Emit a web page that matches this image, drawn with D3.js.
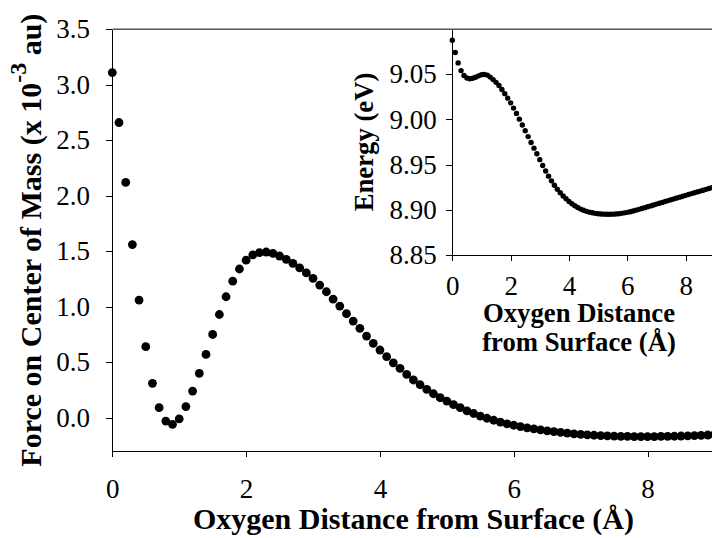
<!DOCTYPE html>
<html>
<head>
<meta charset="utf-8">
<script src="https://cdn.jsdelivr.net/npm/d3@7"></script>
<style>
  body { margin: 0; background: #fff; }
  svg { display: block; }
  .axis path, .axis line { stroke: #000; stroke-width: 1px; shape-rendering: crispEdges; }
  .title { font-weight: bold; fill: #000; }
</style>
</head>
<body>
<div id="chart"></div>
<script>
var serif = "'Liberation Serif', 'Times New Roman', Times, serif";

// Oxygen distance from surface (Å), 0.1 Å steps, shared by both panels
var distance = d3.range(91).map(function (i) { return i / 10; });

// Force on centre of mass (x 10^-3 au)
var force = [
    3.11, 2.66, 2.12, 1.56, 1.06, 0.64, 0.31, 0.09, -0.03, -0.06,
    -0.01, 0.10, 0.24, 0.40, 0.57, 0.75, 0.93, 1.09, 1.23, 1.34,
    1.42, 1.467, 1.488, 1.493, 1.48, 1.457, 1.427, 1.39, 1.35, 1.305,
    1.256, 1.195, 1.135, 1.069, 1.006, 0.937, 0.871, 0.805, 0.736, 0.67,
    0.61, 0.55, 0.495, 0.445, 0.39, 0.34, 0.297, 0.256, 0.216, 0.18,
    0.15, 0.117, 0.09, 0.062, 0.038, 0.015, -0.005, -0.023, -0.04, -0.055,
    -0.068, -0.08, -0.091, -0.101, -0.11, -0.118, -0.126, -0.133, -0.139, -0.145,
    -0.150, -0.154, -0.158, -0.161, -0.164, -0.166, -0.168, -0.169, -0.170, -0.170,
    -0.170, -0.170, -0.169, -0.168, -0.167, -0.165, -0.163, -0.161, -0.159, -0.156,
    -0.153
];

// Energy (eV)
var energy = [
    9.0876, 9.0740, 9.0625, 9.0540, 9.0485, 9.0458, 9.0450, 9.0455, 9.0467, 9.0482,
    9.0494, 9.0497, 9.0490, 9.0468, 9.0440, 9.0410, 9.0375, 9.0330, 9.0285, 9.0235,
    9.0183, 9.0125, 9.0065, 9.0003, 8.9938, 8.9875, 8.9810, 8.9745, 8.9682, 8.9620,
    8.9555, 8.9490, 8.9430, 8.9372, 8.9320, 8.9272, 8.9228, 8.9188, 8.9152, 8.9122,
    8.9092, 8.9067, 8.9045, 8.9025, 8.9008, 8.8995, 8.8983, 8.8974, 8.8967, 8.8961,
    8.8957, 8.8954, 8.8952, 8.8951, 8.8951, 8.8952, 8.8954, 8.8957, 8.8961, 8.8966,
    8.8972, 8.8979, 8.8987, 8.8996, 8.9005, 8.9014, 8.9024, 8.9034, 8.9043, 8.9053,
    8.9063, 8.9073, 8.9082, 8.9092, 8.9102, 8.9112, 8.9121, 8.9131, 8.9140, 8.9150,
    8.9160, 8.9169, 8.9179, 8.9188, 8.9198, 8.9207, 8.9217, 8.9226, 8.9235, 8.9245,
    8.9254
];

// Tick values
var mainXTicks = [0, 2, 4, 6, 8];
var mainYTicks = [0, 0.5, 1.0, 1.5, 2.0, 2.5, 3.0, 3.5];
var insetXTicks = [0, 2, 4, 6, 8];
var insetYTicks = [8.85, 8.90, 8.95, 9.00, 9.05];

var width = 712, height = 538;

var svg = d3.select("#chart")
    .append("svg")
    .attr("width", width)
    .attr("height", height)
    .style("font-family", serif);

// restyle the tick labels that d3 draws in sans-serif 10px
function styleTicks(g) {
    g.attr("font-family", null).attr("font-size", null);
    g.selectAll("text")
        .style("font-family", serif)
        .style("font-size", "27px")
        .style("fill", "#000");
}

// ---- main panel ----
var x = d3.scaleLinear().domain([0, 9]).range([112.3, 714.5]);
var y = d3.scaleLinear().domain([-0.3, 3.5]).range([451, 29.3]);

// grey frame line along the top of the plot area
svg.append("line")
    .attr("x1", x(0)).attr("x2", width)
    .attr("y1", y(3.5)).attr("y2", y(3.5))
    .attr("stroke", "#555")
    .attr("stroke-width", 1.5);

var xAxis = svg.append("g")
    .attr("class", "axis")
    .attr("transform", "translate(0," + y(-0.3) + ")")
    .call(d3.axisBottom(x).tickValues(mainXTicks).tickFormat(d3.format("d")).tickSize(6).tickSizeOuter(0))
    .call(styleTicks);
xAxis.selectAll("text").attr("y", 47).attr("dy", null);

var yAxis = svg.append("g")
    .attr("class", "axis")
    .attr("transform", "translate(" + x(0) + ",0)")
    .call(d3.axisLeft(y).tickValues(mainYTicks).tickFormat(d3.format(".1f")).tickSize(6).tickSizeOuter(0))
    .call(styleTicks);
yAxis.selectAll("text").attr("x", -22.3);

svg.append("g")
    .selectAll("circle")
    .data(distance)
    .enter()
    .append("circle")
    .attr("cx", function (d) { return x(d); })
    .attr("cy", function (d, i) { return y(force[i]); })
    .attr("r", 4.4)
    .attr("fill", "#000");

// axis titles
svg.append("text")
    .attr("class", "title")
    .attr("x", (x(0) + x(9)) / 2)
    .attr("y", 529)
    .attr("text-anchor", "middle")
    .style("font-size", "30px")
    .text("Oxygen Distance from Surface (Å)");

var yTitle = svg.append("text")
    .attr("class", "title")
    .attr("transform", "translate(41," + (y(-0.3) + y(3.5)) / 2 + ") rotate(-90)")
    .attr("text-anchor", "middle")
    .style("font-size", "30px");
yTitle.append("tspan").text("Force on Center of Mass (x 10");
yTitle.append("tspan").attr("dy", -15).style("font-size", "24px").text("-3");
yTitle.append("tspan").attr("dy", 15).text(" au)");

// ---- inset ----
var ix = d3.scaleLinear().domain([0, 9]).range([452.3, 714.8]);
var iy = d3.scaleLinear().domain([8.85, 9.10]).range([255, 29]);

var ixAxis = svg.append("g")
    .attr("class", "axis")
    .attr("transform", "translate(0," + iy(8.85) + ")")
    .call(d3.axisBottom(ix).tickValues(insetXTicks).tickFormat(d3.format("d")).tickSize(6).tickSizeOuter(0))
    .call(styleTicks);
ixAxis.selectAll("text").attr("y", 40).attr("dy", null);

var iyAxis = svg.append("g")
    .attr("class", "axis")
    .attr("transform", "translate(" + ix(0) + ",0)")
    .call(d3.axisLeft(iy).tickValues(insetYTicks).tickFormat(d3.format(".2f")).tickSize(6).tickSizeOuter(0))
    .call(styleTicks);
iyAxis.selectAll("text").attr("x", -15.6);

svg.append("g")
    .selectAll("circle")
    .data(distance)
    .enter()
    .append("circle")
    .attr("cx", function (d) { return ix(d); })
    .attr("cy", function (d, i) { return iy(energy[i]); })
    .attr("r", 2.7)
    .attr("fill", "#000");

var ixTitle = svg.append("text")
    .attr("class", "title")
    .attr("text-anchor", "middle")
    .style("font-size", "26.7px");
ixTitle.append("tspan").attr("x", 579).attr("y", 321.7).text("Oxygen Distance");
ixTitle.append("tspan").attr("x", 579).attr("y", 350.7).text("from Surface (Å)");

svg.append("text")
    .attr("class", "title")
    .attr("transform", "translate(373," + (iy(8.85) + iy(9.10)) / 2 + ") rotate(-90)")
    .attr("text-anchor", "middle")
    .style("font-size", "26.7px")
    .text("Energy (eV)");
</script>
</body>
</html>
